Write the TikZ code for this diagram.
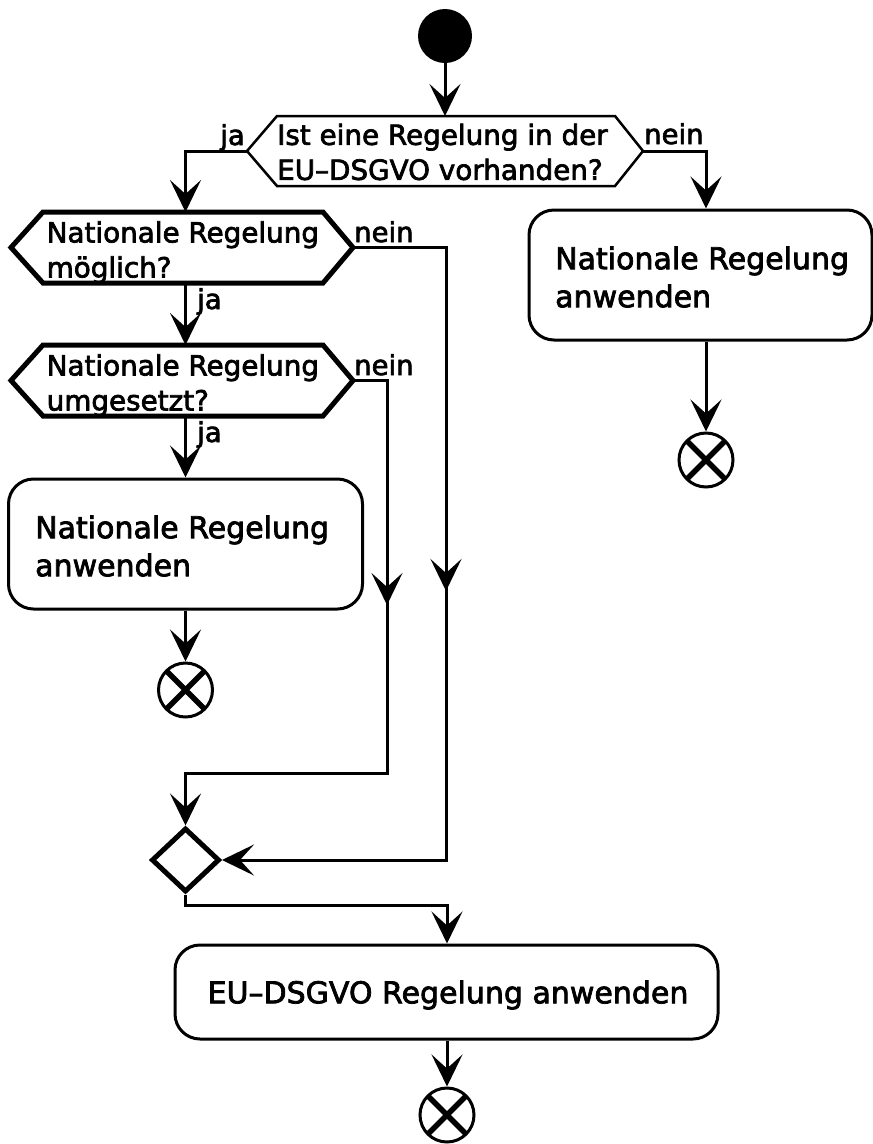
\documentclass[tikz,border=0pt]{standalone}
\usepackage{fontspec}
\setmainfont[FakeBold=2.5]{DejaVu Sans}
\usetikzlibrary{arrows.meta,shapes.geometric,calc}
\tikzset{
  flowarrow/.style={-{Stealth[length=32pt,width=31pt,inset=14pt]}}
}
\begin{document}
\begin{tikzpicture}[x=1pt,y=-1pt,
  conn/.style={line width=3pt, line join=miter},
  hexthin/.style={draw, line width=2.5pt, line join=miter},
  hexthick/.style={draw, line width=5pt, line join=miter},
  hextext/.style={font=\fontsize{27.8}{35}\selectfont, align=left, inner sep=0pt, anchor=west},
  lbl/.style={font=\fontsize{27.5}{33}\selectfont, inner sep=0pt},
  boxnode/.style={draw, line width=3pt, rounded corners=25pt, inner sep=0pt},
  boxtext/.style={font=\fontsize{30}{38}\selectfont, align=left, inner sep=0pt},
  endnode/.style={circle, draw, line width=3pt, minimum size=54pt, inner sep=0pt,
    path picture={\draw[line width=5.5pt]
      ($(path picture bounding box.center)+(-19,-19)$) -- ($(path picture bounding box.center)+(19,19)$)
      ($(path picture bounding box.center)+(-19,19)$) -- ($(path picture bounding box.center)+(19,-19)$);}},
  startnode/.style={circle, fill=black, minimum size=54pt, inner sep=0pt},
  merge/.style={diamond, draw, line width=5pt, minimum width=68pt, minimum height=64pt, inner sep=0pt, line join=miter}
]
\useasboundingbox (0,0) rectangle (873,1144);

% start
\node[startnode] (start) at (445,36) {};

% decision 1
\coordinate (q1w) at (247,151);
\coordinate (q1e) at (643,151);
\coordinate (q1n) at (445,116);
\draw[hexthin] (q1w) -- (277,116) -- (615,116) -- (q1e) -- (615,186) -- (277,186) -- cycle;
\node[hextext] (q1) at (277,152) {Ist eine Regelung in der\\EU–DSGVO vorhanden?};
\node[lbl, anchor=base east] (l1) at (245,145) {ja};
\node[lbl, anchor=base west] (l2) at (644,144) {nein};

% decision 2
\coordinate (q2w) at (11,247.5);
\coordinate (q2e) at (353,247.5);
\coordinate (q2n) at (185.5,212);
\coordinate (q2s) at (185.5,283);
\draw[hexthick] (q2w) -- (43,212) -- (323,212) -- (q2e) -- (323,283) -- (43,283) -- cycle;
\node[hextext] (q2) at (46.5,252.3) {Nationale Regelung\\möglich?};
\node[lbl, anchor=base west] (l3) at (354,242) {nein};
\node[lbl, anchor=base west] (l4) at (197,309) {ja};

% decision 3
\coordinate (q3w) at (11,380.5);
\coordinate (q3e) at (353,380.5);
\coordinate (q3n) at (185.5,345);
\coordinate (q3s) at (185.5,416);
\draw[hexthick] (q3w) -- (43,345) -- (323,345) -- (q3e) -- (323,416) -- (43,416) -- cycle;
\node[hextext] (q3) at (46.5,385.3) {Nationale Regelung\\umgesetzt?};
\node[lbl, anchor=base west] (l5) at (354,375) {nein};
\node[lbl, anchor=base west] (l6) at (197,442) {ja};

% actions
\node[boxnode, minimum width=354pt, minimum height=130pt] (b1) at (185.5,544) {};
\node[boxtext, anchor=west] (b1t) at (35,546) {Nationale Regelung\\anwenden};
\node[boxnode, minimum width=343pt, minimum height=130pt] (b2) at (700.5,275) {};
\node[boxtext, anchor=west] (b2t) at (555,277) {Nationale Regelung\\anwenden};
\node[boxnode, minimum width=543pt, minimum height=94pt] (b3) at (446.5,992) {};
\node[boxtext] (b3t) at (448,995) {EU–DSGVO Regelung anwenden};

% ends
\node[endnode] (e1) at (185.5,690) {};
\node[endnode] (e2) at (706,460) {};
\node[endnode] (e3) at (447,1115) {};

% merge
\node[merge] (d) at (185.5,860) {};

% helper coordinates
\coordinate (rc) at (706,151);
\coordinate (c2) at (446,860);
\coordinate (m2) at (446,591);
\coordinate (c3) at (387,773);
\coordinate (m3) at (387,605);
\coordinate (c4) at (447,905);

% connectors
\draw[conn,flowarrow] (start) -- (q1n);
\draw[conn,flowarrow] (q1w) -| (q2n);
\draw[conn,flowarrow] (q1e) -- (rc) -- (rc |- b2.north);
\draw[conn,flowarrow] (q2s) -- (q3n);
\draw[conn,flowarrow] (q3s) -- (b1.north);
\draw[conn,flowarrow] (b1.south) -- (e1.north);
\draw[conn,flowarrow] (rc |- b2.south) -- (e2.north);
\draw[conn,flowarrow] (q2e) -| (c2) -- (d.east);
\draw[conn,flowarrow] ($(m2)+(0,-34)$) -- (m2);
\draw[conn,flowarrow] (q3e) -| (c3) -| (d.north);
\draw[conn,flowarrow] ($(m3)+(0,-34)$) -- (m3);
\draw[conn,flowarrow] (d.south) |- (c4) -- (c4 |- b3.north);
\draw[conn,flowarrow] (c4 |- b3.south) -- (e3.north);
\end{tikzpicture}
\end{document}
